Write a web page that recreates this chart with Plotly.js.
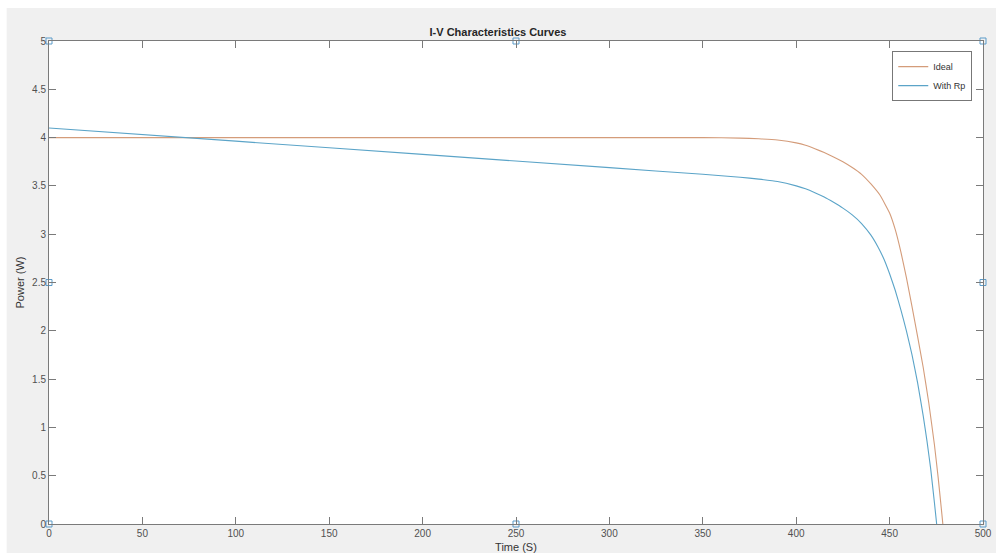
<!DOCTYPE html>
<html>
<head>
<meta charset="utf-8">
<script src="https://cdn.plot.ly/plotly-3.0.1.min.js"></script>
<style>
html,body{margin:0;padding:0;background:#ffffff;}
#chart{width:996px;height:553px;}
</style>
</head>
<body>
<div id="chart"></div>
<script>
// Ideal curve (no parallel resistance)
const idealX = [0, 100, 200, 300, 350, 370, 380, 390, 400, 405, 410, 415, 420, 425, 430, 435, 440, 445, 450, 453, 456, 459, 462, 465, 468, 471, 474, 476, 478, 478.5];
const idealY = [4.0, 4.0, 4.0, 4.0, 4.0, 3.995, 3.988, 3.975, 3.945, 3.92, 3.885, 3.845, 3.80, 3.75, 3.69, 3.62, 3.52, 3.40, 3.22, 3.05, 2.82, 2.55, 2.25, 1.94, 1.62, 1.25, 0.82, 0.48, 0.10, 0];

// With parallel resistance Rp
const rpX = [0, 100, 200, 300, 350, 370, 380, 390, 400, 405, 410, 415, 420, 425, 430, 435, 440, 444, 447, 450, 453, 456, 459, 462, 465, 468, 470, 472, 474, 475.2];
const rpY = [4.10, 3.963, 3.826, 3.689, 3.62, 3.59, 3.57, 3.545, 3.50, 3.47, 3.43, 3.385, 3.33, 3.27, 3.20, 3.11, 2.99, 2.86, 2.74, 2.59, 2.42, 2.22, 2.0, 1.75, 1.46, 1.12, 0.86, 0.57, 0.22, 0];

// MATLAB edit-mode selection handles
const handleX = [0, 250, 500, 0, 500, 0, 250, 500];
const handleY = [5, 5, 5, 2.5, 2.5, 0, 0, 0];

const seriesNames = ['Ideal', 'With Rp'];
const xTicks = [0, 50, 100, 150, 200, 250, 300, 350, 400, 450, 500];
const yTicks = [0, 0.5, 1, 1.5, 2, 2.5, 3, 3.5, 4, 4.5, 5];
const yTickText = ['0', '0.5', '1', '1.5', '2', '2.5', '3', '3.5', '4', '4.5', '5'];

const FONT = 'Liberation Sans, Arial, Helvetica, sans-serif';

const traces = [
  {x: idealX, y: idealY, name: seriesNames[0], type: 'scatter', mode: 'lines',
   line: {color: '#d49c7a', width: 1.1, shape: 'spline', smoothing: 0.3}},
  {x: rpX, y: rpY, name: seriesNames[1], type: 'scatter', mode: 'lines',
   line: {color: '#5ba4c8', width: 1.1, shape: 'spline', smoothing: 0.3}},
  {x: handleX, y: handleY, type: 'scatter', mode: 'markers', showlegend: false,
   cliponaxis: false, hoverinfo: 'skip',
   marker: {symbol: 'square-open', size: 6, color: '#5b9bc9', line: {width: 1}}}
];

const axisCommon = {
  showline: true, linecolor: '#7a7a7a', linewidth: 1, mirror: 'ticks',
  ticks: 'inside', ticklen: 7, tickwidth: 1, tickcolor: '#7a7a7a',
  showgrid: false, zeroline: false,
  tickfont: {family: FONT, size: 10, color: '#505050'}
};

const layout = {
  width: 996, height: 553,
  margin: {l: 49, r: 13, t: 41, b: 29, pad: 0},
  paper_bgcolor: '#f0f0f0',
  plot_bgcolor: '#ffffff',
  showlegend: true,
  title: {text: '<b>I-V Characteristics Curves</b>', x: 0.5, xanchor: 'center',
          y: 1 - 32/553, yanchor: 'middle', yref: 'container',
          font: {family: FONT, size: 11, color: '#262626'}},
  xaxis: Object.assign({}, axisCommon, {
    range: [0, 500], tickvals: xTicks, ticktext: xTicks.map(String),
    title: {text: 'Time (S)', standoff: 7, font: {family: FONT, size: 11, color: '#333333'}}
  }),
  yaxis: Object.assign({}, axisCommon, {
    range: [0, 5], tickvals: yTicks, ticktext: yTickText,
    title: {text: 'Power (W)', standoff: 5, font: {family: FONT, size: 11, color: '#333333'}}
  }),
  legend: {x: 0.9885, xanchor: 'right', y: 0.979, yanchor: 'top',
           bgcolor: '#ffffff', bordercolor: '#777777', borderwidth: 1,
           font: {family: FONT, size: 9, color: '#333333'},
           tracegroupgap: 0, itemwidth: 30},
  shapes: [
    {type: 'rect', xref: 'paper', yref: 'paper', x0: -0.06, x1: 1.02, y0: 1.0683, y1: 1.12,
     fillcolor: '#ffffff', line: {width: 0}, layer: 'below'},
    {type: 'rect', xref: 'paper', yref: 'paper', x0: -0.06, x1: -0.0453, y0: -0.07, y1: 1.12,
     fillcolor: '#ffffff', line: {width: 0}, layer: 'below'}
  ]
};

Plotly.newPlot('chart', traces, layout, {displayModeBar: false, staticPlot: true});
</script>
</body>
</html>
